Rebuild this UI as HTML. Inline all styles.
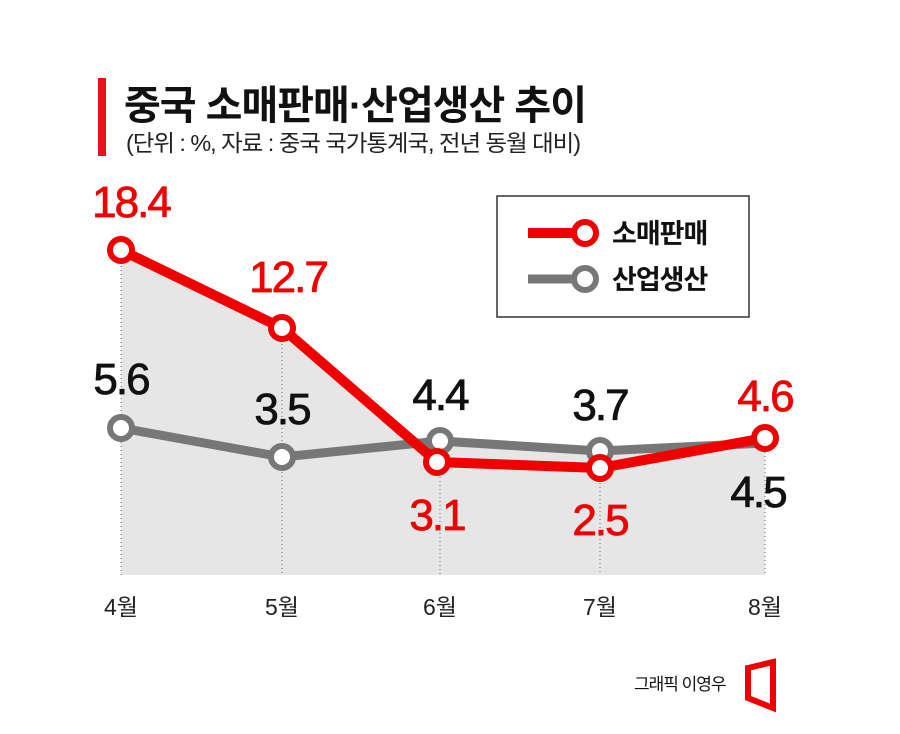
<!DOCTYPE html>
<html><head><meta charset="utf-8"><style>
body{margin:0;background:#fff}
svg{display:block}
text{font-family:"Liberation Sans","Noto Sans CJK KR",sans-serif}
</style></head><body>
<svg width="900" height="734" viewBox="0 0 900 734">
<rect x="98" y="78" width="8" height="78" fill="#e8141b"/>
<text x="124" y="119" font-size="40" font-weight="bold" fill="#111" letter-spacing="-1" textLength="462" lengthAdjust="spacingAndGlyphs">중국 소매판매·산업생산 추이</text>
<text x="126" y="151" font-size="23" fill="#222" letter-spacing="-1" textLength="454" lengthAdjust="spacingAndGlyphs">(단위 : %, 자료 : 중국 국가통계국, 전년 동월 대비)</text>
<polygon points="121,250 282,328 420,440 440,441 600,451 765,440 765,575 121,575" fill="#e6e6e6"/>
<g stroke="#666" stroke-width="1" stroke-dasharray="1,3">
<line x1="121" y1="250" x2="121" y2="575"/><line x1="282" y1="328" x2="282" y2="575"/>
<line x1="440" y1="441" x2="440" y2="575"/><line x1="600" y1="451" x2="600" y2="575"/>
<line x1="765" y1="440" x2="765" y2="575"/></g>
<polyline points="121,428 282,457 440,441 600,451 765,443" fill="none" stroke="#777" stroke-width="9" stroke-linejoin="round"/>
<g fill="#fff" stroke="#777" stroke-width="6">
<circle cx="121" cy="428" r="11"/><circle cx="282" cy="457" r="11"/><circle cx="440" cy="441" r="11"/><circle cx="600" cy="451" r="11"/></g>
<polyline points="121,250 282,328 437,462 600,468 765,438" fill="none" stroke="#f00000" stroke-width="10" stroke-linejoin="round"/>
<g fill="#fff" stroke="#f00000" stroke-width="6">
<circle cx="121" cy="250" r="11"/><circle cx="282" cy="328" r="11"/><circle cx="437" cy="462" r="11"/><circle cx="600" cy="468" r="11"/><circle cx="765" cy="438" r="11"/></g>
<g font-size="44" text-anchor="middle" letter-spacing="-2" stroke-width="0.8">
<text x="131" y="217" fill="#f00000" stroke="#f00000">18.4</text>
<text x="288" y="292" fill="#f00000" stroke="#f00000">12.7</text>
<text x="437" y="530" fill="#f00000" stroke="#f00000">3.1</text>
<text x="600" y="535" fill="#f00000" stroke="#f00000">2.5</text>
<text x="765" y="411" fill="#f00000" stroke="#f00000">4.6</text>
<text x="121" y="394" fill="#111" stroke="#111">5.6</text>
<text x="282" y="424" fill="#111" stroke="#111">3.5</text>
<text x="440" y="410" fill="#111" stroke="#111">4.4</text>
<text x="600" y="420" fill="#111" stroke="#111">3.7</text>
<text x="758" y="507" fill="#111" stroke="#111">4.5</text>
</g>
<g font-size="23" text-anchor="middle" fill="#222">
<text x="121" y="615">4월</text><text x="282" y="615">5월</text><text x="440" y="615">6월</text><text x="600" y="615">7월</text><text x="765" y="615">8월</text></g>
<rect x="497" y="196" width="252" height="121" fill="#fff" stroke="#333" stroke-width="1.5"/>
<line x1="528" y1="233" x2="585" y2="233" stroke="#f00000" stroke-width="10"/>
<circle cx="585" cy="233" r="11" fill="#fff" stroke="#f00000" stroke-width="6"/>
<line x1="528" y1="279" x2="585" y2="279" stroke="#777" stroke-width="9"/>
<circle cx="585" cy="279" r="11" fill="#fff" stroke="#777" stroke-width="6"/>
<text x="612" y="243" font-size="27" font-weight="bold" fill="#111" letter-spacing="-1">소매판매</text>
<text x="612" y="289" font-size="27" font-weight="bold" fill="#111" letter-spacing="-1">산업생산</text>
<text x="634" y="690" font-size="17" fill="#111" letter-spacing="-1">그래픽 이영우</text>
<polygon points="748,668 773,662 773,708 748,698" fill="none" stroke="#f00000" stroke-width="6" stroke-linejoin="miter"/>
</svg>
</body></html>
